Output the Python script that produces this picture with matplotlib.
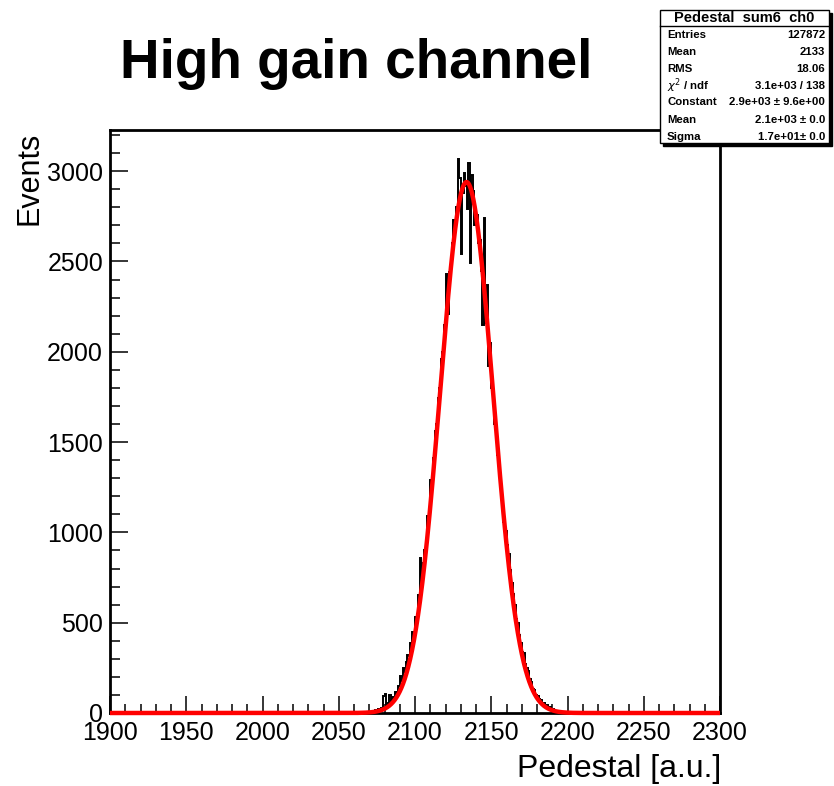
#!/usr/bin/env python3
"""Pedestal distribution of the high gain channel with a gaussian fit."""

import numpy as np
import matplotlib

matplotlib.use("Agg")
import matplotlib.pyplot as plt
from matplotlib.patches import Rectangle

plt.rcParams["font.family"] = ["Liberation Sans", "DejaVu Sans"]

# histogram: 1 a.u. bins, first bin starts at FIRST_BIN, empty outside
FIRST_BIN = 2073
counts = [
    8, 15, 12, 22, 18, 30, 95, 104, 38, 55,
    98, 62, 88, 84, 118, 110, 150, 205, 176, 250,
    228, 280, 320, 318, 390, 448, 440, 530, 548, 655,
    860, 740, 830, 905, 960, 1090, 1130, 1290, 1320, 1410,
    1560, 1600, 1745, 1800, 1960, 2000, 2150, 2430, 2210, 2440,
    2470, 2600, 2730, 2680, 2800, 3070, 2960, 2540, 2880, 2990,
    2920, 2790, 3045, 2490, 2980, 2890, 2700, 2760, 2600, 2620,
    2450, 2150, 2740, 2160, 2370, 1920, 2050, 1800, 1760, 1600,
    1540, 1430, 1380, 1250, 1190, 1060, 1010, 930, 880, 790,
    720, 660, 600, 520, 500, 430, 390, 340, 330, 270,
    250, 230, 190, 170, 135, 128, 100, 96, 78, 72,
    54, 58, 40, 46, 30, 34, 20, 24, 14, 12,
    8,
]

# gaussian fit parameters
fit_constant = 2940.0
fit_mean = 2133.8
fit_sigma = 17.3

x_range = (1900, 2300)
y_max = 3228

stats_labels = ["Entries", "Mean", "RMS", r"$\chi^2$ / ndf", "Constant", "Mean", "Sigma"]
stats_values = ["127872", "2133", "18.06", "3.1e+03 / 138",
                "2.9e+03 \u00b1 9.6e+00", "2.1e+03 \u00b1 0.0", "1.7e+01\u00b1 0.0"]

W, H = 834, 786
fig = plt.figure(figsize=(W / 100, H / 100), dpi=100)
ax = fig.add_axes([110 / W, 1 - 713 / H, 610 / W, 583 / H])

edges = np.arange(FIRST_BIN, FIRST_BIN + len(counts) + 1)
ax.stairs(counts, edges, color="black", linewidth=1.4, zorder=2)

fx = np.linspace(x_range[0], x_range[1], 4001)
fy = fit_constant * np.exp(-0.5 * ((fx - fit_mean) / fit_sigma) ** 2)
ax.plot(fx, fy, color="#ff0000", linewidth=3.2, zorder=3, clip_on=False,
        solid_capstyle="butt")

ax.set_xlim(*x_range)
ax.set_ylim(0, y_max)
ax.set_xticks(np.arange(1900, 2301, 50))
ax.set_xticks(np.arange(1900, 2301, 10), minor=True)
ax.set_yticks(np.arange(0, 3001, 500))
ax.set_yticks(np.arange(0, 3201, 100), minor=True)
ax.tick_params(axis="both", which="both", direction="in", width=1.1,
               labelsize=18, colors="black")
ax.tick_params(axis="x", which="major", length=12.2, pad=6)
ax.tick_params(axis="x", which="minor", length=6.5)
ax.tick_params(axis="y", which="major", length=13, pad=5)
ax.tick_params(axis="y", which="minor", length=7.2)
for spine in ax.spines.values():
    spine.set_linewidth(2.0)

fig.text(30 / W, 1 - 132 / H, "Events", rotation=90, ha="center", va="top",
         fontsize=22)
fig.text(721 / W, 1 - 777 / H, "Pedestal [a.u.]", ha="right", va="baseline",
         fontsize=23)
fig.text(120 / W, 1 - 78 / H, "High gain channel", ha="left", va="baseline",
         fontsize=39.5, fontweight="bold")

# stats box in the ROOT style, with its drop shadow
bx0, bx1, by0, by1 = 660, 829, 10, 143
shadow = Rectangle(((bx0 + 3) / W, 1 - (by1 + 3) / H), (bx1 - bx0) / W,
                   (by1 - by0) / H, transform=fig.transFigure,
                   facecolor="black", edgecolor="black", zorder=5)
box = Rectangle((bx0 / W, 1 - by1 / H), (bx1 - bx0) / W, (by1 - by0) / H,
                transform=fig.transFigure, facecolor="white",
                edgecolor="black", linewidth=1.0, zorder=6)
fig.add_artist(shadow)
fig.add_artist(box)
fig.add_artist(plt.Line2D([bx0 / W, bx1 / W], [1 - 26 / H, 1 - 26 / H],
                          transform=fig.transFigure, color="black",
                          linewidth=1.0, zorder=7))
fig.text((bx0 + bx1) / 2 / W, 1 - 18 / H, "Pedestal  sum6  ch0", ha="center",
         va="center", fontsize=10.5, fontweight="bold", zorder=8)
row_y = [35, 52, 69, 86, 102, 120, 137]
for label, value, y in zip(stats_labels, stats_values, row_y):
    fig.text(667 / W, 1 - y / H, label, ha="left", va="center", fontsize=8.2,
             fontweight="bold", zorder=8)
    fig.text(825 / W, 1 - y / H, value, ha="right", va="center", fontsize=8.2,
             fontweight="bold", zorder=8)

fig.savefig("out.png", dpi=100)
